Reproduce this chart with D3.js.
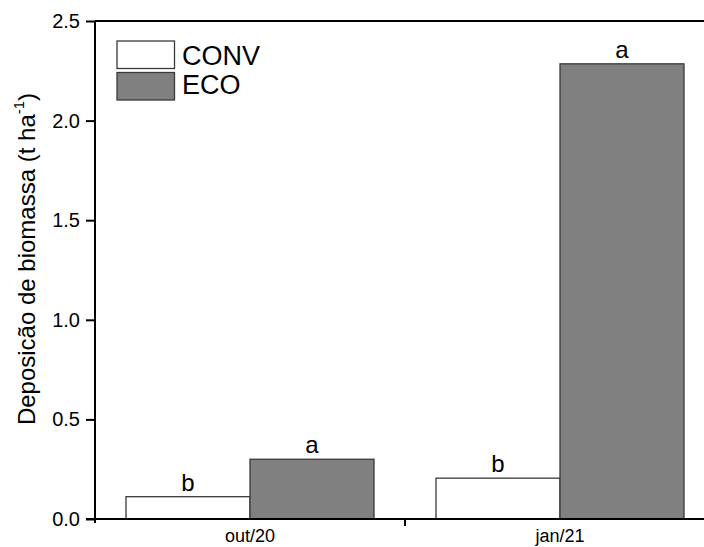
<!DOCTYPE html>
<html>
<head>
<meta charset="utf-8">
<script src="https://cdn.jsdelivr.net/npm/d3@7"></script>
<style>
  html, body { margin: 0; padding: 0; background: #fff; }
  svg { display: block; font-family: "Liberation Sans", Arial, sans-serif; }
</style>
</head>
<body>
<svg id="chart" width="704" height="547"></svg>
<script>
const categories = ["out/20", "jan/21"];
const series = ["CONV", "ECO"];
const conv = [0.112, 0.205];
const eco = [0.30, 2.285];
const convLetters = ["b", "b"];
const ecoLetters = ["a", "a"];
const yTicks = [0, 0.5, 1.0, 1.5, 2.0, 2.5];
const colors = { CONV: "#ffffff", ECO: "#808080" };

const values = { CONV: conv, ECO: eco };
const letters = { CONV: convLetters, ECO: ecoLetters };

const svg = d3.select("#chart");
const m = { left: 95, top: 21, right: 715, bottom: 519 };

const x = d3.scaleBand().domain(categories).range([m.left, m.right])
  .paddingInner(0.2).paddingOuter(0.1);
const xs = d3.scaleBand().domain(series).range([0, x.bandwidth()]).padding(0);
const y = d3.scaleLinear().domain([0, 2.5]).range([m.bottom, m.top]);

// bars
const groups = svg.append("g").selectAll("g").data(categories).join("g")
  .attr("transform", c => `translate(${x(c)},0)`);
series.forEach(s => {
  groups.append("rect")
    .attr("x", xs(s))
    .attr("width", xs.bandwidth())
    .attr("y", (c, i) => y(values[s][i]))
    .attr("height", (c, i) => y(0) - y(values[s][i]))
    .attr("fill", colors[s])
    .attr("stroke", "#3a3a3a")
    .attr("stroke-width", 1.3);
  groups.append("text")
    .attr("x", xs(s) + xs.bandwidth() / 2)
    .attr("y", (c, i) => y(values[s][i]) - 6)
    .attr("text-anchor", "middle")
    .attr("font-size", 24)
    .attr("fill", "#000")
    .text((c, i) => letters[s][i]);
});

// top frame line
svg.append("line")
  .attr("x1", m.left).attr("x2", 704)
  .attr("y1", m.top).attr("y2", m.top)
  .attr("stroke", "#000").attr("stroke-width", 2);

// y axis
const yAxis = svg.append("g").attr("transform", `translate(${m.left},0)`)
  .call(d3.axisLeft(y).tickValues(yTicks).tickFormat(d3.format(".1f")).tickSize(9).tickPadding(6));
yAxis.select(".domain").attr("stroke-width", 2).attr("d", `M0,${m.top}V${m.bottom + 4}`);
yAxis.selectAll(".tick line").attr("stroke-width", 2);
yAxis.selectAll("text").attr("font-size", 20).attr("fill", "#000").attr("font-family", "Liberation Sans, Arial, sans-serif");

// x axis
const xAxis = svg.append("g").attr("transform", `translate(0,${m.bottom})`)
  .call(d3.axisBottom(x).tickSize(0).tickPadding(10));
xAxis.select(".domain").attr("stroke-width", 2).attr("d", `M${m.left - 9},0H704`);
xAxis.selectAll("text").attr("font-size", 18).attr("fill", "#000").attr("dy", "0.71em").attr("font-family", "Liberation Sans, Arial, sans-serif");
// separator tick between categories
const sepX = (x(categories[0]) + x.bandwidth() + x(categories[1])) / 2;
svg.append("line")
  .attr("x1", sepX).attr("x2", sepX)
  .attr("y1", m.bottom).attr("y2", m.bottom + 7)
  .attr("stroke", "#000").attr("stroke-width", 2);

// y axis label
const yl = svg.append("text")
  .attr("transform", `translate(35,259) rotate(-90)`)
  .attr("text-anchor", "middle")
  .attr("font-size", 24)
  .attr("fill", "#000");
yl.append("tspan").text("Deposicão de biomassa (t ha");
yl.append("tspan").attr("font-size", 15).attr("dy", -11).text("-1");
yl.append("tspan").attr("dy", 11).text(")");

// legend
const leg = svg.append("g");
series.forEach((s, i) => {
  leg.append("rect")
    .attr("x", 117).attr("y", 41 + i * 31.5)
    .attr("width", 57.5).attr("height", 27.5)
    .attr("fill", colors[s]).attr("stroke", "#3a3a3a").attr("stroke-width", 1.3);
  leg.append("text")
    .attr("x", 182).attr("y", 65 + i * 28.5)
    .attr("font-size", 27).attr("fill", "#000")
    .text(s);
});
</script>
</body>
</html>
